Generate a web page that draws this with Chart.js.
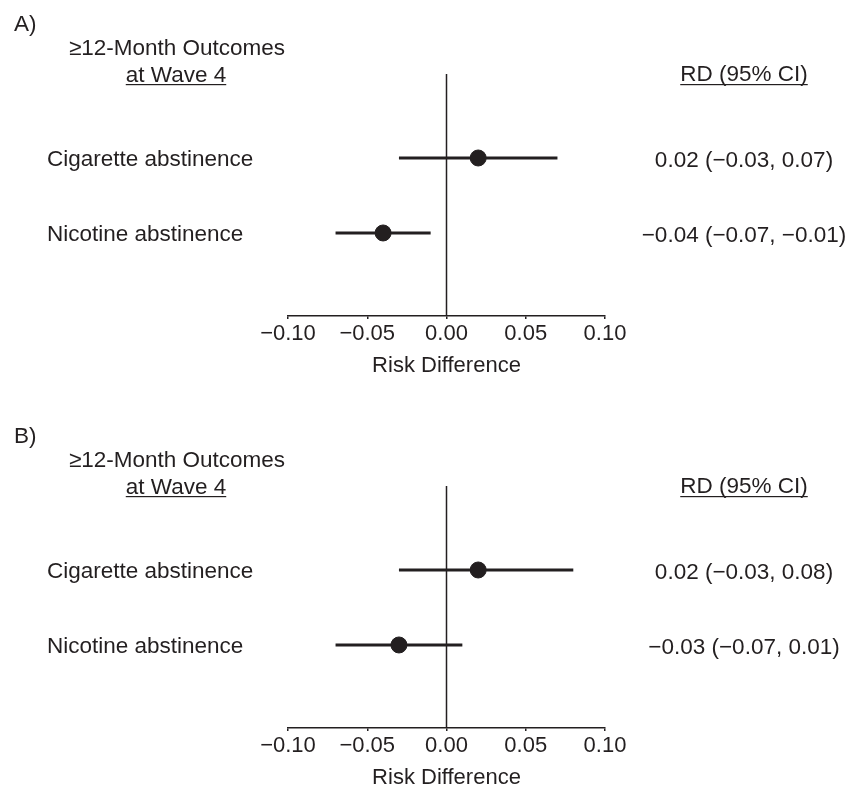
<!DOCTYPE html>
<html>
<head>
<meta charset="utf-8">
<script src="https://cdn.jsdelivr.net/npm/chart.js@4.4.1/dist/chart.umd.min.js"></script>
<style>
  html, body { margin: 0; padding: 0; background: #fff; overflow: hidden; }
  canvas { position: absolute; left: 0; }
  #chartA { top: 0; }
  #chartB { top: 412px; }
</style>
</head>
<body>
<canvas id="chartA" width="848" height="412"></canvas>
<canvas id="chartB" width="848" height="412"></canvas>
<script>
// Datos
const outcomes = ['Cigarette abstinence', 'Nicotine abstinence'];
const xTicks = [-0.10, -0.05, 0.00, 0.05, 0.10];

// Panel A
const rdA = [0.02, -0.04];
const lowA = [-0.03, -0.07];
const highA = [0.07, -0.01];

// Panel B
const rdB = [0.02, -0.03];
const lowB = [-0.03, -0.07];
const highB = [0.08, 0.01];

const INK = '#231f20';
const FONT = '"Liberation Sans", Arial, Helvetica, sans-serif';

const fmt = (v) => (v < 0 ? '\u2212' : '') + Math.abs(v).toFixed(2);

function underlined(ctx, text, cx, base, lineY) {
  ctx.textAlign = 'center';
  ctx.fillText(text, cx, base);
  const w = ctx.measureText(text).width;
  ctx.fillRect(cx - w / 2, lineY, w, 1.2);
}

// Textos fuera del área del gráfico (encabezados, etiquetas, RD)
const forestText = {
  id: 'forestText',
  afterDraw(chart, args, opts) {
    const { ctx } = chart;
    const y = chart.scales.y;
    ctx.save();
    ctx.fillStyle = INK;
    ctx.font = '22.5px ' + FONT;
    ctx.textBaseline = 'alphabetic';
    ctx.textAlign = 'left';
    ctx.fillText(opts.letter, 14, 31);
    ctx.textAlign = 'center';
    ctx.fillText('\u226512-Month Outcomes', 177, 55);
    underlined(ctx, 'at Wave 4', 176, 82, 84);
    underlined(ctx, 'RD (95% CI)', 744, 81, 84);
    outcomes.forEach((name, i) => {
      const py = y.getPixelForValue(i);
      ctx.textAlign = 'left';
      ctx.fillText(name, 47, py + 8);
      ctx.textAlign = 'center';
      ctx.fillText(`${fmt(opts.rd[i])} (${fmt(opts.lo[i])}, ${fmt(opts.hi[i])})`, 744, py + 9.5);
    });
    ctx.restore();
  }
};

function makePanel(id, letter, rd, lo, hi) {
  const yMin = -1.12, yMax = 2.107;
  const ciSets = outcomes.map((name, i) => ({
    label: name + ' CI',
    data: [{ x: lo[i], y: i }, { x: hi[i], y: i }],
    showLine: true,
    borderColor: INK,
    borderWidth: 3,
    pointRadius: 0,
    clip: false,
  }));
  return new Chart(document.getElementById(id), {
    type: 'scatter',
    data: {
      datasets: [
        {
          label: 'RD',
          data: rd.map((v, i) => ({ x: v, y: i })),
          pointRadius: 8,
          pointBackgroundColor: INK,
          pointBorderColor: INK,
          pointBorderWidth: 1,
          clip: false,
        },
        ...ciSets,
        {
          label: 'null',
          data: [{ x: 0, y: yMin }, { x: 0, y: yMax }],
          showLine: true,
          borderColor: INK,
          borderWidth: 1.5,
          pointRadius: 0,
          clip: false,
        },
      ],
    },
    options: {
      responsive: false,
      animation: false,
      layout: { padding: { top: 74, left: 288, right: 243, bottom: 0 } },
      plugins: {
        legend: { display: false },
        tooltip: { enabled: false },
        forestText: { letter, rd, lo, hi },
      },
      scales: {
        x: {
          type: 'linear',
          min: -0.1,
          max: 0.1,
          afterBuildTicks: (s) => { s.ticks = xTicks.map((v) => ({ value: v })); },
          afterFit: (s) => { s.height = 96; },
          ticks: {
            callback: (v) => fmt(v),
            color: INK,
            font: { family: FONT, size: 22 },
            padding: 2,
            maxRotation: 0,
          },
          grid: { display: true, drawOnChartArea: false, drawTicks: true, tickLength: 3, color: INK, lineWidth: 1.5 },
          border: { display: true, color: INK, width: 1.5 },
          title: {
            display: true,
            text: 'Risk Difference',
            color: INK,
            font: { family: FONT, size: 22 },
            padding: { top: 0, bottom: 33 },
          },
        },
        y: { type: 'linear', reverse: true, min: yMin, max: yMax, display: false },
      },
    },
    plugins: [forestText],
  });
}

makePanel('chartA', 'A)', rdA, lowA, highA);
makePanel('chartB', 'B)', rdB, lowB, highB);
</script>
</body>
</html>
